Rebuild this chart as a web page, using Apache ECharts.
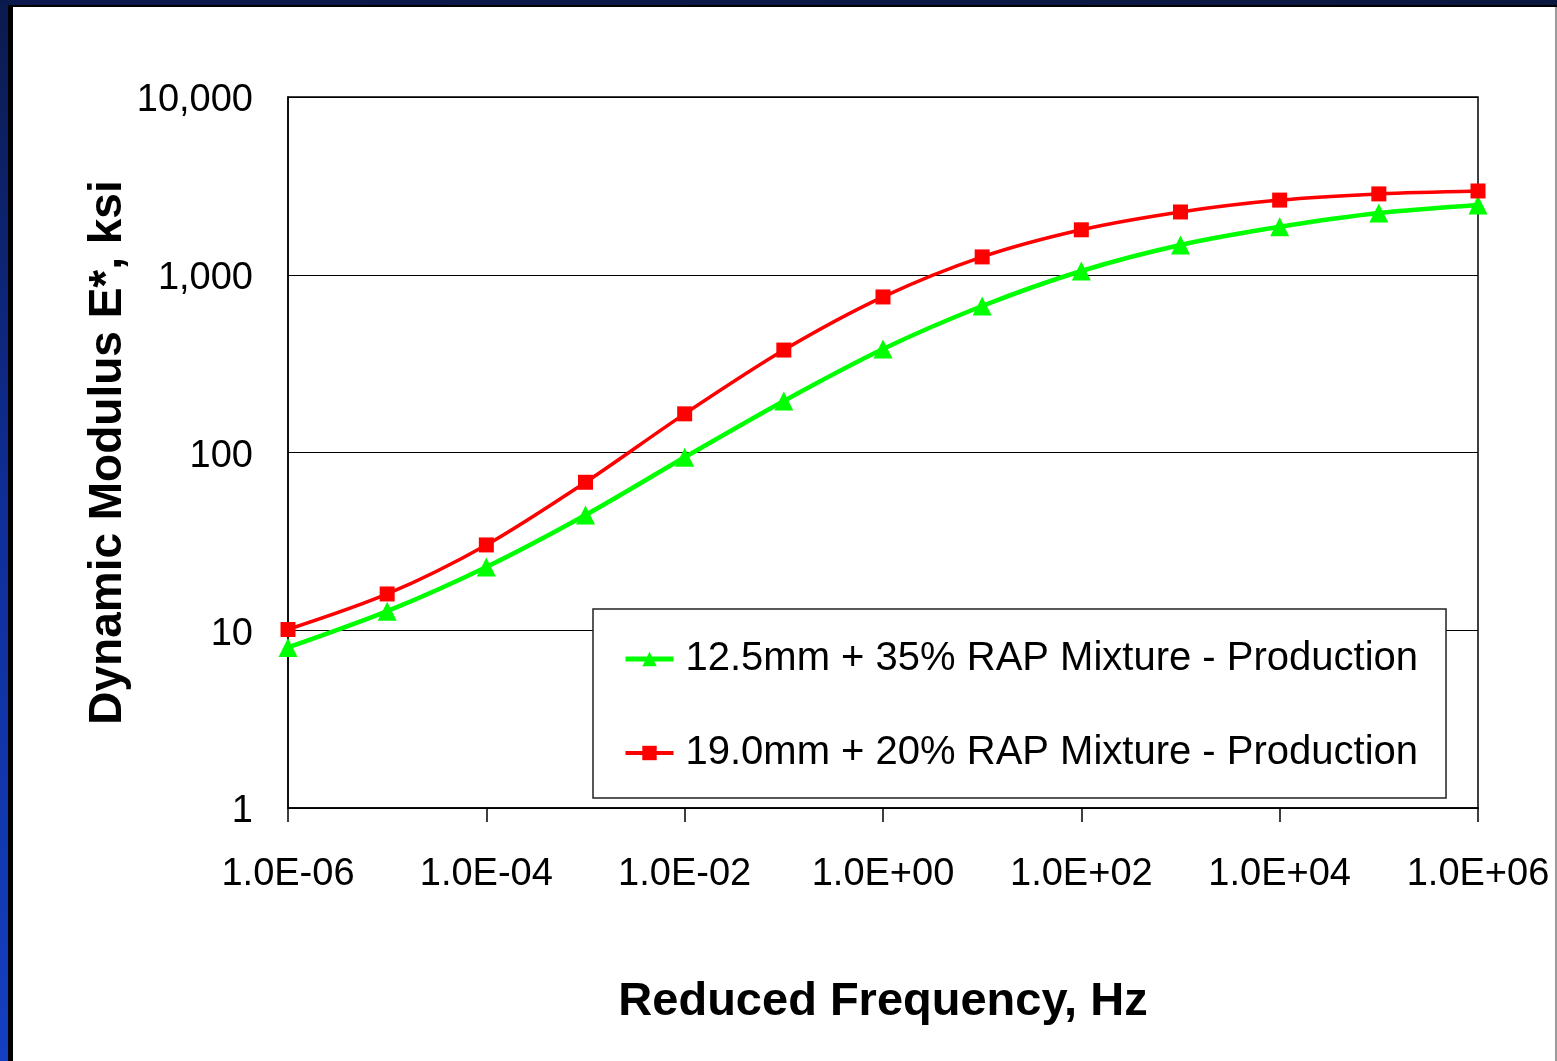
<!DOCTYPE html>
<html>
<head>
<meta charset="utf-8">
<script src="https://cdn.jsdelivr.net/npm/echarts@6/dist/echarts.min.js"></script>
<style>
html,body{margin:0;padding:0;background:#fff;}
#chart{width:1557px;height:1061px;}
</style>
</head>
<body>
<div id="chart"></div>
<script>
// Reduced frequency (Hz), one point per decade
var frequencies = [1e-6, 1e-5, 1e-4, 1e-3, 1e-2, 1e-1, 1e0, 1e1, 1e2, 1e3, 1e4, 1e5, 1e6];
// Dynamic modulus E*, ksi
var seriesNames = ['12.5mm + 35% RAP Mixture - Production', '19.0mm + 20% RAP Mixture - Production'];
var mix125 = [8.0, 12.8, 22.7, 44.5, 94, 195, 382, 667, 1050, 1470, 1860, 2225, 2470];
var mix190 = [10.1, 16.0, 30.2, 68, 165, 377, 750, 1260, 1790, 2255, 2630, 2850, 2960];
var xTitle = 'Reduced Frequency, Hz';
var yTitle = 'Dynamic Modulus E*, ksi';

function pairs(xs, ys) { return xs.map(function (x, i) { return [x, ys[i]]; }); }
function sciLabel(v) {
  var e = Math.round(Math.log10(v));
  var s = e < 0 ? '-' : '+';
  var a = Math.abs(e);
  return '1.0E' + s + (a < 10 ? '0' : '') + a;
}

var chart = echarts.init(document.getElementById('chart'));
var font = '"Liberation Sans", Arial, sans-serif';
chart.setOption({
  backgroundColor: '#ffffff',
  animation: false,
  graphic: [
    { type: 'rect', shape: { x: 0, y: 0, width: 8, height: 1061 }, style: { fill: new echarts.graphic.LinearGradient(0, 0, 0, 1, [{ offset: 0, color: '#0b1a4e' }, { offset: 0.5, color: '#0f2f9a' }, { offset: 1, color: '#143fc0' }]) } },
    { type: 'rect', shape: { x: 8, y: 0, width: 5, height: 1061 }, style: { fill: '#000000' } },
    { type: 'rect', shape: { x: 0, y: 0, width: 1557, height: 5 }, style: { fill: new echarts.graphic.LinearGradient(0, 0, 1, 0, [{ offset: 0, color: '#0b1a4e' }, { offset: 1, color: '#0a1840' }]) } },
    { type: 'rect', shape: { x: 8, y: 5, width: 1549, height: 2 }, style: { fill: '#000000' } },
    { type: 'rect', shape: { x: 1555, y: 7, width: 2, height: 1054 }, style: { fill: '#9a9a9a' } }
  ],
  grid: {
    left: 288, top: 97, right: 79, bottom: 253,
    show: true, borderColor: '#000000', borderWidth: 1.5, backgroundColor: 'transparent'
  },
  legend: {
    orient: 'vertical',
    left: 593, top: 609,
    padding: [30, 28, 25, 30],
    itemGap: 54,
    itemWidth: 48, itemHeight: 18,
    backgroundColor: '#ffffff',
    borderColor: '#222222', borderWidth: 1.5,
    textStyle: { fontFamily: font, fontSize: 40, color: '#000000', padding: [0, 0, 0, 7] },
    data: [
      { name: seriesNames[0], lineStyle: { width: 5 } },
      { name: seriesNames[1], lineStyle: { width: 4 } }
    ]
  },
  xAxis: {
    type: 'log', logBase: 10,
    min: 1e-6, max: 1e6, interval: 2,
    name: xTitle, nameLocation: 'middle', nameGap: 171, nameMoveOverlap: false,
    nameTextStyle: { fontFamily: font, fontSize: 47, fontWeight: 'bold', color: '#000000' },
    axisLine: { show: true, lineStyle: { color: '#000000', width: 1.5 } },
    axisTick: { show: true, inside: false, length: 14, lineStyle: { color: '#000000', width: 1.5 } },
    minorTick: { show: false },
    axisLabel: { fontFamily: font, fontSize: 38, color: '#000000', margin: 48, formatter: sciLabel, showMinLabel: true, showMaxLabel: true },
    splitLine: { show: false }
  },
  yAxis: {
    type: 'log', logBase: 10,
    min: 1, max: 10000, interval: 1,
    name: yTitle, nameLocation: 'middle', nameGap: 157, nameMoveOverlap: false,
    nameTextStyle: { fontFamily: font, fontSize: 46, fontWeight: 'bold', color: '#000000' },
    axisLine: { show: true, lineStyle: { color: '#000000', width: 1.5 } },
    axisTick: { show: false },
    axisLabel: {
      fontFamily: font, fontSize: 38, color: '#000000', margin: 35,
      formatter: function (v) { return '{t|' + Math.round(v).toLocaleString('en-US') + '}'; },
      rich: { t: { fontFamily: font, fontSize: 38, color: '#000000', padding: [8, 0, 0, 0] } }
    },
    splitLine: { show: true, lineStyle: { color: '#000000', width: 1.2 } }
  },
  series: [
    {
      name: seriesNames[0], type: 'line', data: pairs(frequencies, mix125),
      smooth: 0.3, symbol: 'triangle', symbolSize: 19,
      lineStyle: { color: '#00ff00', width: 4.5 },
      itemStyle: { color: '#00ff00' }, z: 3
    },
    {
      name: seriesNames[1], type: 'line', data: pairs(frequencies, mix190),
      smooth: 0.3, symbol: 'rect', symbolSize: 15,
      lineStyle: { color: '#ff0000', width: 3.5 },
      itemStyle: { color: '#ff0000' }, z: 4
    }
  ]
});
</script>
</body>
</html>
